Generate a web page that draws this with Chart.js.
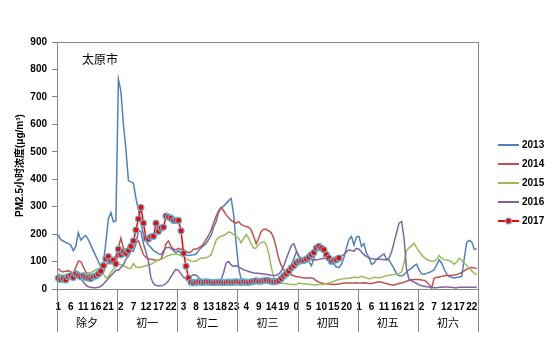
<!DOCTYPE html>
<html>
<head>
<meta charset="utf-8">
<script src="https://cdn.jsdelivr.net/npm/chart.js@4.4.1/dist/chart.umd.min.js"></script>
<style>
  html, body { margin: 0; padding: 0; background: #fff; }
</style>
</head>
<body>
<canvas id="pmChart" width="552" height="339"></canvas>
<script>
// hourly PM2.5 (μg/m³), 除夕 to 初六, 24 values per day
const dayNames = ["除夕", "初一", "初二", "初三", "初四", "初五", "初六"];
const hourNames = [1, 2, 3, 4, 5, 6, 7, 8, 9, 10, 11, 12, 13, 14, 15, 16, 17, 18, 19, 20, 21, 22, 23, 0];
const tickEvery = 5;
const yearNames = ["2013", "2014", "2015", "2016", "2017"];
const cityName = "太原市";
const yTitle = "PM2.5小时浓度(μg/m³)";

const pm2013 = [
  198, 180, 175, 170, 165, 160, 140, 155, 205, 178, 188, 195, 180, 160, 140, 120, 100, 80, 95, 170, 255, 278, 245, 248,
  765, 720, 600, 510, 395, 390, 385, 330, 290, 240, 200, 175, 160, 150, 140, 135, 128, 125, 140, 150, 152, 148, 140, 132,
  140, 130, 125, 123, 122, 124, 125, 128, 140, 150, 158, 165, 180, 195, 225, 245, 280, 295, 302, 312, 322, 330, 270, 165,
  75, 35, 28, 26, 25, 25, 25, 26, 27, 28, 27, 26, 27, 28, 28, 30, 33, 38, 45, 55, 68, 85, 110, 135,
  120, 110, 108, 105, 100, 85, 110, 150, 160, 145, 130, 120, 110, 100, 90, 80, 78, 90, 115, 150, 180, 192, 160, 190,
  192, 155, 165, 130, 115, 90, 95, 107, 115, 122, 128, 108, 105, 90, 75, 55, 48, 47, 52, 62, 70, 76, 85, 90,
  70, 55, 54, 57, 60, 64, 70, 88, 107, 94, 72, 55, 45, 43, 40, 42, 44, 46, 110, 170, 177, 172, 145, 146
];
const pm2014 = [
  75, 65, 62, 65, 66, 62, 58, 78, 102, 100, 80, 62, 55, 52, 48, 46, 48, 50, 62, 82, 100, 110, 112, 120,
  150, 186, 150, 137, 135, 145, 160, 170, 175, 150, 125, 115, 110, 108, 107, 105, 105, 110, 130, 165, 175, 155, 145, 143,
  148, 145, 143, 138, 132, 135, 145, 146, 150, 155, 165, 180, 195, 215, 240, 265, 285, 297, 285, 270, 260, 250, 245, 240,
  245, 235, 230, 228, 225, 215, 190, 165, 185, 210, 218, 218, 212, 205, 185, 150, 110, 85, 70, 62, 56, 52, 48, 45,
  45, 42, 40, 40, 40, 40, 38, 30, 25, 22, 20, 18, 18, 17, 16, 17, 18, 20, 22, 22, 22, 22, 22, 23,
  22, 22, 23, 22, 20, 20, 22, 25, 26, 25, 22, 20, 17, 15, 15, 17, 20, 22, 25, 28, 32, 34, 35, 35,
  35, 33, 32, 26, 16, 3, 40, 42, 44, 46, 48, 49, 49, 50, 51, 53, 56, 60, 66, 72, 76, 78, 77, 74
];
const pm2015 = [
  55, 52, 50, 52, 55, 50, 48, 52, 48, 50, 52, 55, 58, 60, 65, 70, 75, 72, 55, 40, 45, 60, 72, 80,
  90, 88, 85, 80, 76, 75, 93, 80, 78, 80, 82, 85, 88, 90, 95, 102, 105, 108, 112, 118, 122, 125, 127, 128,
  125, 122, 119, 112, 106, 101, 100, 102, 108, 112, 113, 114, 118, 125, 150, 178, 188, 192, 195, 200, 208, 205, 198, 192,
  185, 168, 185, 198, 185, 165, 148, 150, 162, 170, 172, 162, 130, 80, 42, 28, 24, 22, 20, 19, 18, 16, 16, 16,
  22, 20, 19, 18, 17, 16, 15, 15, 16, 17, 18, 20, 22, 25, 28, 32, 34, 36, 38, 38, 39, 41, 43, 42,
  42, 46, 44, 40, 37, 38, 43, 42, 40, 43, 46, 48, 50, 52, 53, 54, 56, 62, 95, 140, 150, 158, 167, 150,
  138, 125, 115, 108, 104, 101, 101, 108, 122, 112, 107, 106, 104, 98, 90, 98, 112, 105, 95, 86, 76, 66, 58, 52
];
const pm2016 = [
  45, 42, 40, 38, 40, 42, 45, 48, 45, 38, 25, 15, 8, 6, 5, 5, 6, 10, 18, 28, 38, 48, 58, 68,
  68, 78, 88, 108, 120, 140, 137, 165, 212, 210, 165, 135, 100, 40, 20, 13, 12, 12, 14, 20, 30, 45, 60, 72,
  68, 55, 42, 38, 42, 48, 52, 50, 42, 35, 30, 28, 27, 27, 28, 28, 30, 35, 60, 95, 100, 88, 82, 85,
  80, 75, 70, 67, 64, 61, 58, 57, 57, 56, 55, 54, 52, 50, 49, 50, 55, 65, 85, 110, 135, 158, 165, 140,
  120, 108, 105, 105, 106, 107, 107, 106, 108, 110, 112, 110, 108, 110, 112, 114, 118, 120, 126, 135, 142, 140, 138, 148,
  145, 135, 125, 118, 113, 110, 109, 108, 108, 108, 107, 107, 112, 135, 170, 205, 240, 246, 185, 70, 35, 30, 25, 20,
  15, 12, 10, 8, 7, 6, 5, 5, 6, 6, 7, 7, 6, 6, 5, 5, 6, 6, 6, 6, 6, 6, 6, 6
];
// 2017 only runs to 初四 17时
const pm2017 = [
  40, 35, 38, 33, 45, 48, 42, 55, 50, 45, 48, 42, 40, 38, 45, 48, 55, 65, 85, 110, 118, 102, 105, 92,
  145, 125, 135, 130, 140, 155, 175, 215, 255, 297, 240, 185, 182, 190, 192, 240, 210, 222, 225, 266, 262, 258, 250, 250,
  250, 212, 130, 83, 40, 25, 22, 24, 26, 25, 24, 26, 25, 24, 23, 24, 25, 24, 23, 24, 25, 24, 25, 26,
  25, 24, 26, 25, 24, 26, 28, 30, 28, 29, 30, 32, 30, 28, 26, 27, 30, 38, 48, 55, 65, 77, 85, 95,
  101, 103, 104, 109, 116, 125, 133, 149, 155, 149, 143, 125, 113, 101, 104, 107, 113
];

const labels = [];
dayNames.forEach(d => hourNames.forEach(h => labels.push(d + " " + h)));

const axisGray = "#868686";
const latin = "'Liberation Sans', Arial, 'Noto Sans CJK SC', sans-serif";
const cjk = "'Noto Sans CJK SC', 'Liberation Sans', sans-serif";

function line(label, data, color, order) {
  return {
    label, data, order,
    borderColor: color, backgroundColor: color,
    borderWidth: 1.5, pointRadius: 0, tension: 0, fill: false
  };
}

const series = [
  line(yearNames[0], pm2013, "#4f81bd", 5),
  line(yearNames[1], pm2014, "#c0504d", 4),
  line(yearNames[2], pm2015, "#9bbb59", 3),
  line(yearNames[3], pm2016, "#8064a2", 2),
  Object.assign(line(yearNames[4], pm2017, "#ff0000", 1), {
    pointRadius: 3,
    pointBorderWidth: 1.2,
    pointBackgroundColor: "#ff0000",
    pointBorderColor: "#5bb5d0"
  })
];

// frame, day groups under the hour ticks, city name and legend
const decorations = {
  id: "decorations",
  afterDraw(chart) {
    const ctx = chart.ctx;
    const area = chart.chartArea;
    const xs = chart.scales.x;
    ctx.save();
    ctx.strokeStyle = axisGray;
    ctx.lineWidth = 1;
    ctx.strokeRect(Math.round(area.left) + 0.5, Math.round(area.top) + 0.5,
      Math.round(area.right - area.left), Math.round(area.bottom - area.top));

    // day separators reaching down through the label rows
    const n = hourNames.length;
    for (let k = 0; k <= dayNames.length; k++) {
      const x = Math.round(xs.getPixelForValue(k * n - 0.5)) + 0.5;
      ctx.beginPath();
      ctx.moveTo(x, area.bottom);
      ctx.lineTo(x, area.bottom + 43);
      ctx.stroke();
    }
    ctx.fillStyle = "#000";
    ctx.font = "11px " + cjk;
    ctx.textAlign = "center";
    ctx.textBaseline = "middle";
    dayNames.forEach((d, k) => {
      ctx.fillText(d, xs.getPixelForValue(k * n + (n - 1) / 2), area.bottom + 34);
    });

    ctx.font = "12px " + cjk;
    ctx.textAlign = "left";
    ctx.fillText(cityName, area.left + 25, area.top + 17);

    // legend
    const lx = area.right + 20;
    let ly = area.top + 103;
    ctx.font = "bold 10px " + latin;
    chart.data.datasets.forEach(ds => {
      ctx.strokeStyle = ds.borderColor;
      ctx.lineWidth = 2;
      ctx.beginPath();
      ctx.moveTo(lx, ly);
      ctx.lineTo(lx + 21, ly);
      ctx.stroke();
      if (ds.pointRadius) {
        ctx.beginPath();
        ctx.arc(lx + 10.5, ly, ds.pointRadius, 0, Math.PI * 2);
        ctx.fillStyle = ds.pointBackgroundColor;
        ctx.fill();
        ctx.lineWidth = ds.pointBorderWidth;
        ctx.strokeStyle = ds.pointBorderColor;
        ctx.stroke();
      }
      ctx.fillStyle = "#000";
      ctx.fillText(ds.label, lx + 24, ly + 0.5);
      ly += 19;
    });
    ctx.restore();
  }
};

new Chart(document.getElementById("pmChart").getContext("2d"), {
  type: "line",
  data: { labels, datasets: series },
  options: {
    responsive: false,
    animation: false,
    layout: { padding: { left: 0, right: 74, top: 42, bottom: 0 } },
    plugins: { legend: { display: false }, tooltip: { enabled: false } },
    scales: {
      x: {
        type: "category",
        offset: true,
        grid: { display: false },
        border: { display: true, color: axisGray, width: 1 },
        ticks: {
          autoSkip: false, maxRotation: 0, minRotation: 0, padding: 4,
          color: "#000",
          font: { family: latin, size: 10, weight: "bold" },
          callback: (v, i) => i % tickEvery === 0 ? String(hourNames[i % hourNames.length]) : ""
        },
        afterFit: s => { s.height = 50; }
      },
      y: {
        min: 0, max: 900,
        grid: { drawOnChartArea: false, drawTicks: true, tickLength: 5, color: axisGray },
        border: { display: true, color: axisGray, width: 1 },
        ticks: {
          stepSize: 100, padding: 5, color: "#000",
          font: { family: latin, size: 10, weight: "bold" }
        },
        title: {
          display: true, text: yTitle, color: "#000",
          font: { family: latin, size: 10, weight: "bold" },
          padding: { top: 14, bottom: 0 }
        },
        afterFit: s => { s.width = 57; }
      }
    }
  },
  plugins: [decorations]
});
</script>
</body>
</html>
